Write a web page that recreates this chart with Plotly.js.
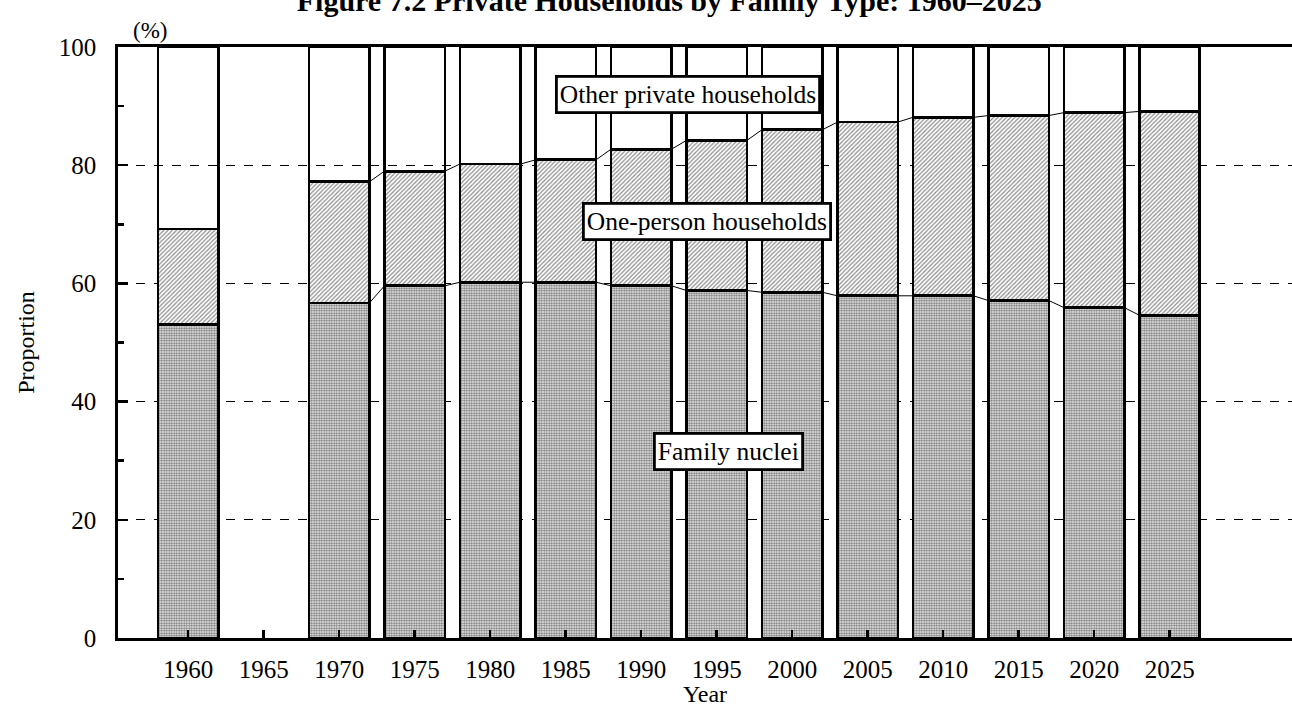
<!DOCTYPE html>
<html>
<head>
<meta charset="utf-8">
<script src="https://cdn.plot.ly/plotly-3.0.1.min.js"></script>
<style>html,body{margin:0;padding:0;background:#fff;}#chart{width:1292px;height:707px;}</style>
</head>
<body>
<div id="chart"></div>
<script>
// Data (percent of private households)
const years = ["1960","1965","1970","1975","1980","1985","1990","1995","2000","2005","2010","2015","2020","2025"];
const familyNuclei = [53.0, null, 56.7, 59.6, 60.2, 60.2, 59.6, 58.8, 58.5, 57.9, 57.9, 57.1, 55.9, 54.6];
const onePerson    = [16.2, null, 20.5, 19.4, 20.0, 20.7, 23.1, 25.4, 27.5, 29.4, 30.2, 31.3, 33.0, 34.5];
const otherPrivate = familyNuclei.map((v, i) => v === null ? null : +(100 - v - onePerson[i]).toFixed(1));

const idx = years.map((_, i) => i);
const barW = 0.8;
const font = "Liberation Serif, Times New Roman, serif";

// connector lines between adjacent bar segment tops
function connectors(cum) {
  const xs = [], ys = [];
  for (let i = 0; i < cum.length - 1; i++) {
    if (cum[i] !== null && cum[i + 1] !== null) {
      xs.push(i + barW / 2, i + 1 - barW / 2, null);
      ys.push(cum[i], cum[i + 1], null);
    }
  }
  return {x: xs, y: ys};
}
const cumNuclei = familyNuclei.slice();
const cumOne = familyNuclei.map((v, i) => v === null ? null : v + onePerson[i]);
const c1 = connectors(cumNuclei), c2 = connectors(cumOne);

const barLine = {color: "#000", width: 2.8};
const traces = [
  {type: "bar", name: "Family nuclei", x: idx, y: familyNuclei, width: barW,
   marker: {color: "#ffffff", line: barLine,
            pattern: {shape: ".", fgcolor: "#777777", bgcolor: "#ffffff", size: 2.5, solidity: 0.6, fillmode: "replace"}},
   hoverinfo: "y"},
  {type: "bar", name: "One-person households", x: idx, y: onePerson, width: barW,
   marker: {color: "#ffffff", line: barLine,
            pattern: {shape: "/", fgcolor: "#8c8c8c", bgcolor: "#ffffff", size: 3, solidity: 0.4, fillmode: "replace"}},
   hoverinfo: "y"},
  {type: "bar", name: "Other private households", x: idx, y: otherPrivate, width: barW,
   marker: {color: "rgba(0,0,0,0)", line: barLine}, hoverinfo: "y"},
  {type: "scatter", mode: "lines", x: c1.x, y: c1.y, line: {color: "#000", width: 1}, hoverinfo: "skip", connectgaps: false},
  {type: "scatter", mode: "lines", x: c2.x, y: c2.y, line: {color: "#000", width: 1}, hoverinfo: "skip", connectgaps: false}
];

const labelStyle = {showarrow: false, bgcolor: "#ffffff", bordercolor: "#000", borderwidth: 2.8, borderpad: 2,
                    font: {family: font, size: 25.5, color: "#000"}};
const layout = {
  width: 1292, height: 707,
  paper_bgcolor: "#fff", plot_bgcolor: "rgba(0,0,0,0)",
  margin: {l: 118, r: 0, t: 47, b: 69},
  showlegend: false,
  barmode: "stack",
  font: {family: font, size: 24, color: "#000"},
  title: {text: "<b>Figure 7.2 Private Households by Family Type: 1960–2025</b>",
          font: {family: font, size: 30, color: "#000"},
          x: 0.518, xref: "container", xanchor: "center", y: 1, yref: "container", yanchor: "middle"},
  xaxis: {
    range: [-0.93, 14.62], tickmode: "array", tickvals: idx, ticktext: years,
    ticks: "inside", ticklen: 8, tickwidth: 2.5, tickcolor: "#000",
    showline: true, linecolor: "#000", linewidth: 2.8, mirror: true,
    showgrid: false, zeroline: false, ticklabelstandoff: 7,
    tickfont: {family: font, size: 25},
    title: {text: "Year", font: {family: font, size: 24}, standoff: 2}
  },
  yaxis: {
    range: [0, 100], tickmode: "linear", dtick: 20, tick0: 0,
    ticks: "inside", ticklen: 10, tickwidth: 2.5, tickcolor: "#000",
    minor: {dtick: 10, ticks: "inside", ticklen: 6, tickwidth: 2.5, tickcolor: "#000", showgrid: false},
    showline: true, linecolor: "#000", linewidth: 2.8,
    showgrid: true, gridcolor: "#000", gridwidth: 1, griddash: "dash",
    zeroline: false, ticklabelstandoff: 14,
    tickfont: {family: font, size: 25},
    title: {text: "Proportion", font: {family: font, size: 24}, standoff: 18}
  },
  annotations: [
    Object.assign({x: 6.62, y: 91.9, xref: "x", yref: "y", text: "Other private households"}, labelStyle),
    Object.assign({x: 6.87, y: 70.4, xref: "x", yref: "y", text: "One-person households"}, labelStyle),
    Object.assign({x: 7.15, y: 31.5, xref: "x", yref: "y", text: "Family nuclei"}, labelStyle),
    {x: (150 - 118) / (1292 - 118), y: 1 + (47 - 30) / (707 - 47 - 69), xref: "paper", yref: "paper",
     xanchor: "center", yanchor: "middle", text: "(%)", showarrow: false,
     font: {family: font, size: 23, color: "#000"}}
  ]
};

Plotly.newPlot("chart", traces, layout, {displayModeBar: false, staticPlot: true});
</script>
</body>
</html>
